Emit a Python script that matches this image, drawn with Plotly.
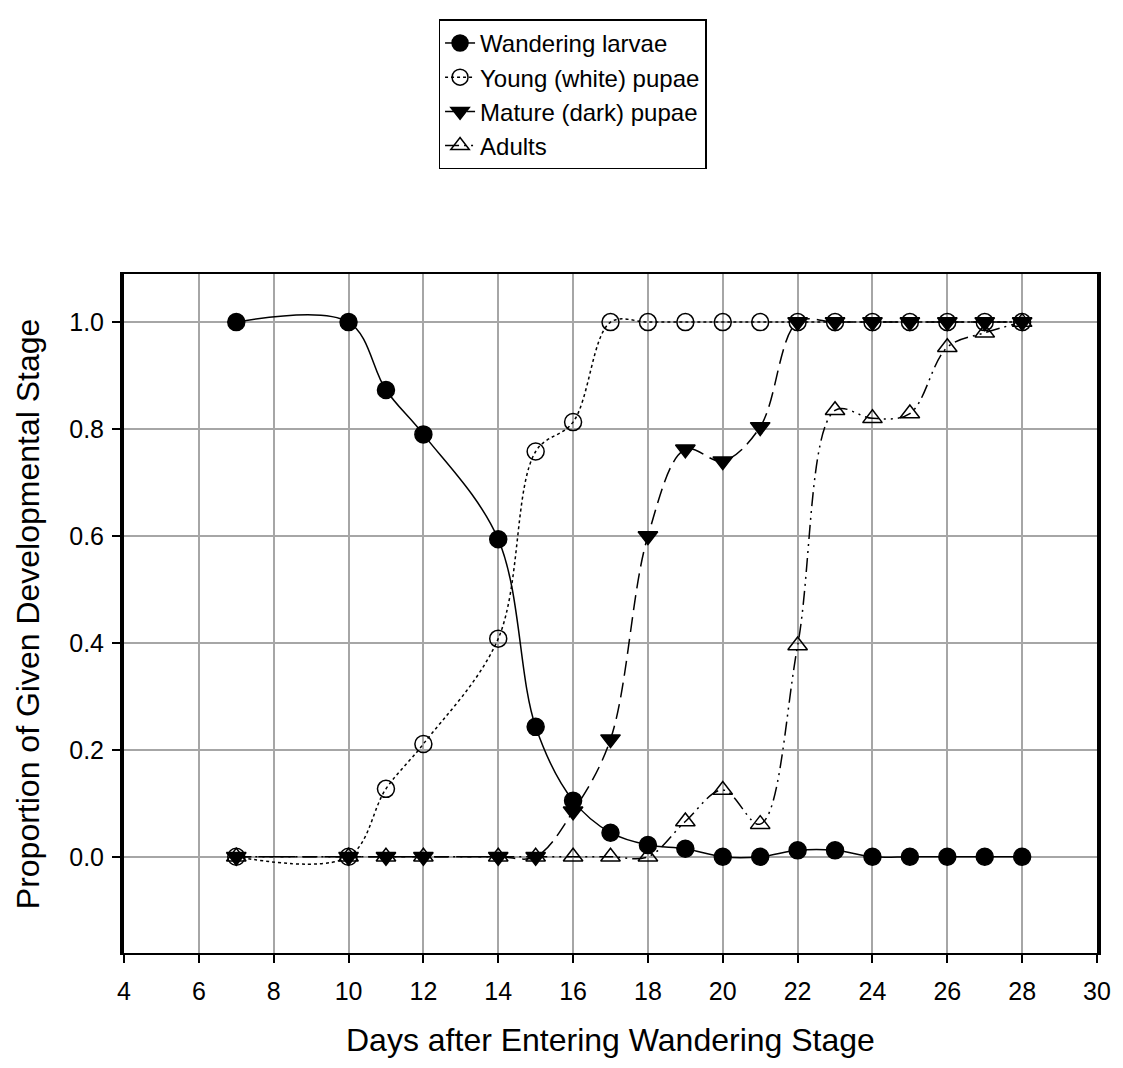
import plotly.graph_objects as go

days = [7, 10, 11, 12, 14, 15, 16, 17, 18, 19, 20, 21, 22, 23, 24, 25, 26, 27, 28]
larvae = [1.0, 1.0, 0.873, 0.79, 0.594, 0.243, 0.105, 0.045, 0.022, 0.015, 0.0, 0.0,
          0.012, 0.012, 0.0, 0.0, 0.0, 0.0, 0.0]
young = [0.0, 0.0, 0.127, 0.211, 0.408, 0.758, 0.813, 1.0, 1.0, 1.0, 1.0, 1.0,
         1.0, 1.0, 1.0, 1.0, 1.0, 1.0, 1.0]
mature = [0.0, 0.0, 0.0, 0.0, 0.0, 0.0, 0.085, 0.22, 0.60, 0.762, 0.74, 0.804,
          1.0, 1.0, 1.0, 1.0, 1.0, 1.0, 1.0]
adults = [0.0, 0.0, 0.0, 0.0, 0.0, 0.0, 0.0, 0.0, 0.0, 0.066, 0.125, 0.061,
          0.395, 0.835, 0.82, 0.829, 0.953, 0.98, 1.0]

series_names = ["Wandering larvae", "Young (white) pupae", "Mature (dark) pupae", "Adults"]
x_ticks = [4, 6, 8, 10, 12, 14, 16, 18, 20, 22, 24, 26, 28, 30]
y_ticks = [0.0, 0.2, 0.4, 0.6, 0.8, 1.0]

FONT = "Liberation Sans, Arial, sans-serif"

styles = [
    dict(dash="solid", symbol="circle"),
    dict(dash="dot", symbol="circle-open"),
    dict(dash="15px,7px", symbol="triangle-down"),
    dict(dash="14px,5px,2px,5px,2px,5px", symbol="triangle-up-open"),
]

fig = go.Figure()
for name, vals, st in zip(series_names, [larvae, young, mature, adults], styles):
    fig.add_trace(go.Scatter(
        x=days, y=vals, name=name, mode="lines+markers",
        line=dict(color="black", width=1.5, dash=st["dash"], shape="spline", smoothing=1.0),
        marker=dict(symbol=st["symbol"], size=17, color="black",
                    line=dict(color="black", width=1.5)),
    ))

fig.update_layout(
    width=1115, height=1060, autosize=False,
    paper_bgcolor="white", plot_bgcolor="white",
    margin=dict(l=116, r=19, t=258, b=115),
    font=dict(family=FONT, color="black", size=25),
    showlegend=True,
    legend=dict(x=0.461, y=1.375, xanchor="center", yanchor="top",
                bordercolor="black", borderwidth=1.5, bgcolor="white",
                font=dict(size=24, family=FONT), tracegroupgap=0),
    annotations=[
        dict(text="Days after Entering Wandering Stage", xref="paper", yref="paper",
             x=0.5, y=-0.128, xanchor="center", yanchor="middle", showarrow=False,
             font=dict(size=32, family=FONT)),
        dict(text="Proportion of Given Developmental Stage", xref="paper", yref="paper",
             x=-0.099, y=0.5, xanchor="center", yanchor="middle", showarrow=False,
             textangle=-90, font=dict(size=32, family=FONT)),
    ],
)

fig.update_xaxes(range=[4, 30], tickvals=x_ticks, ticks="outside", ticklen=8,
                 tickwidth=1.5, tickcolor="black", ticklabelstandoff=7,
                 showgrid=True, gridcolor="#a6a6a6", gridwidth=1.5,
                 showline=True, linecolor="black", linewidth=2, mirror=True,
                 zeroline=False, tickfont=dict(size=25))
fig.update_yaxes(range=[-0.18, 1.09], tickvals=y_ticks, tickformat=".1f",
                 ticks="outside", ticklen=8, tickwidth=1.5, tickcolor="black",
                 ticklabelstandoff=3,
                 showgrid=True, gridcolor="#a6a6a6", gridwidth=1.5,
                 showline=True, linecolor="black", linewidth=4, mirror=True,
                 zeroline=False, tickfont=dict(size=25))

fig.write_html("out.html")
